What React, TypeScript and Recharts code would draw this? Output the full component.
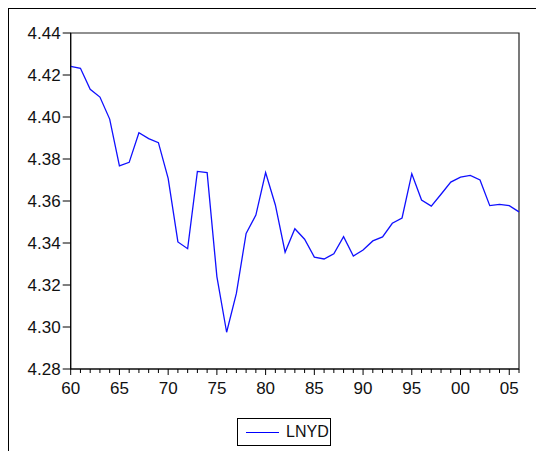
import React from "react";
import { LineChart, Line, XAxis, YAxis, ReferenceArea, Legend } from "recharts";

// Annual observations 1960–2006
const years: number[] = [
  1960, 1961, 1962, 1963, 1964, 1965, 1966, 1967, 1968, 1969,
  1970, 1971, 1972, 1973, 1974, 1975, 1976, 1977, 1978, 1979,
  1980, 1981, 1982, 1983, 1984, 1985, 1986, 1987, 1988, 1989,
  1990, 1991, 1992, 1993, 1994, 1995, 1996, 1997, 1998, 1999,
  2000, 2001, 2002, 2003, 2004, 2005, 2006,
];

const lnyd: number[] = [
  4.4241, 4.4232, 4.4132, 4.4095, 4.399, 4.3767, 4.3784, 4.3925, 4.3897, 4.3878,
  4.3708, 4.3405, 4.3373, 4.3741, 4.3735, 4.324, 4.2975, 4.316, 4.3446, 4.3533,
  4.3735, 4.3581, 4.3356, 4.3468, 4.3418, 4.3333, 4.3324, 4.3349, 4.343, 4.3338,
  4.3367, 4.341, 4.3429, 4.3494, 4.3519, 4.373, 4.3605, 4.3576, 4.3632, 4.369,
  4.3714, 4.3722, 4.37, 4.3578, 4.3584, 4.3578, 4.3548,
];

const yTicks: number[] = [4.28, 4.3, 4.32, 4.34, 4.36, 4.38, 4.4, 4.42, 4.44];
const xTicks: number[] = years;

const data = years.map((y, i) => ({ year: y, LNYD: lnyd[i] }));

const FONT = "'Liberation Sans', Arial, sans-serif";

const YearTick = (props: any) => {
  const { x, y, payload } = props;
  const v: number = payload.value;
  const major = v % 5 === 0;
  return (
    <g>
      <line x1={x} y1={y} x2={x} y2={y + (major ? 6 : 4)} stroke="#000" strokeWidth={1} />
      {major && (
        <text
          x={x}
          y={y + 21}
          textAnchor="middle"
          dominantBaseline="middle"
          fontFamily={FONT}
          fontSize={17}
          fill="#111"
        >
          {String(v % 100).padStart(2, "0")}
        </text>
      )}
    </g>
  );
};

const LegendBox = () => (
  <div
    style={{
      width: 94,
      height: 28,
      border: "1px solid #000",
      boxSizing: "border-box",
      display: "flex",
      alignItems: "center",
      background: "#fff",
      fontFamily: FONT,
      fontSize: 16,
      color: "#111",
    }}
  >
    <span
      style={{
        display: "inline-block",
        width: 33,
        height: 0,
        borderTop: "1px solid #0000ff",
        marginLeft: 8,
        marginRight: 7,
      }}
    />
    <span>LNYD</span>
  </div>
);

export default function App() {
  return (
    <div style={{ position: "relative", width: 544, height: 459, margin: -8, background: "#fff" }}>
      <div style={{ position: "absolute", left: 0, top: 0 }}>
        <LineChart
          width={544}
          height={459}
          data={data}
          margin={{ top: 33, right: 25, bottom: 0, left: 0 }}
        >
          <XAxis
            dataKey="year"
            type="number"
            domain={[1960, 2006]}
            ticks={xTicks}
            interval={0}
            tickSize={0}
            tickMargin={0}
            tick={<YearTick />}
            axisLine={{ stroke: "#000", strokeWidth: 1 }}
            height={62}
          />
          <YAxis
            type="number"
            domain={[4.28, 4.44]}
            ticks={yTicks}
            interval={0}
            width={70.7}
            tickSize={8}
            tickMargin={2}
            tickFormatter={(v: number) => v.toFixed(2)}
            tick={{ fontFamily: FONT, fontSize: 17, fill: "#111" }}
            tickLine={{ stroke: "#000" }}
            axisLine={{ stroke: "#000", strokeWidth: 1 }}
          />
          <ReferenceArea
            x1={1960}
            x2={2006}
            y1={4.28}
            y2={4.44}
            fill="none"
            stroke="#222"
            strokeWidth={1.2}
            ifOverflow="visible"
          />
          <Legend
            content={<LegendBox />}
            wrapperStyle={{ position: "absolute", left: 237, top: 418, width: 94, bottom: "auto" }}
          />
          <Line
            type="linear"
            dataKey="LNYD"
            stroke="#1010ff"
            strokeWidth={1.3}
            dot={false}
            isAnimationActive={false}
          />
        </LineChart>
      </div>
      {/* outer page frame: left and top rules */}
      <div style={{ position: "absolute", left: 6, top: 7, width: 3, height: 452, background: "#000" }} />
      <div style={{ position: "absolute", left: 6, top: 7, width: 538, height: 2, background: "#000" }} />
    </div>
  );
}
